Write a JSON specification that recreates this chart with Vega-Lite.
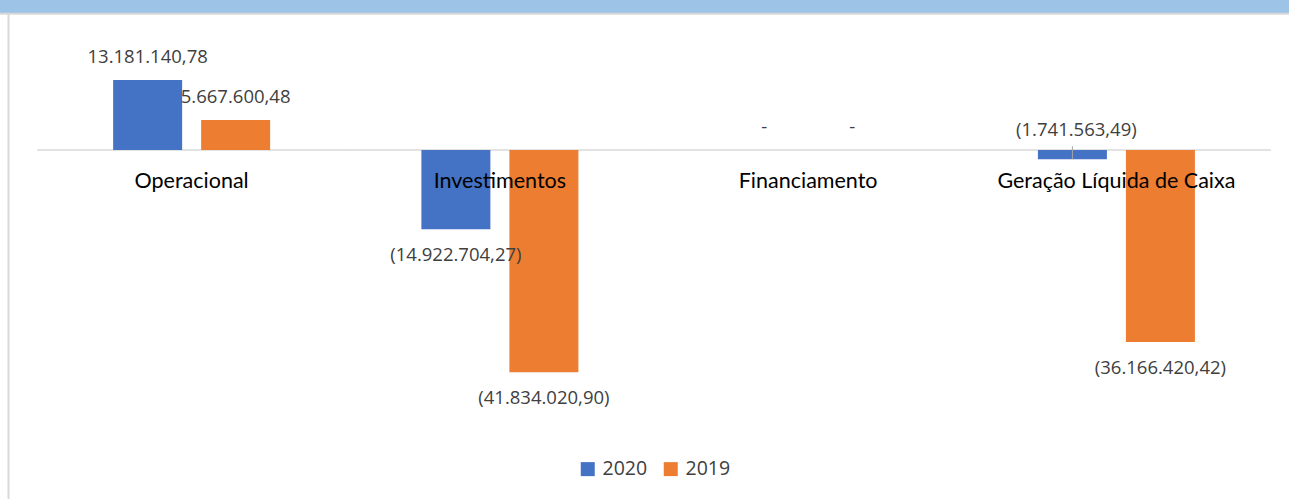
{
  "$schema": "https://vega.github.io/schema/vega-lite/v6.json",
  "width": 1289,
  "height": 499,
  "padding": 0,
  "autosize": {"type": "none"},
  "background": "white",
  "config": {"view": {"stroke": null}},
  "data": {
    "values": [
      {"cat": "Operacional", "year": "2020", "value": 13181140.78, "label": "13.181.140,78"},
      {"cat": "Operacional", "year": "2019", "value": 5667600.48, "label": "5.667.600,48"},
      {"cat": "Investimentos", "year": "2020", "value": -14922704.27, "label": "(14.922.704,27)"},
      {"cat": "Investimentos", "year": "2019", "value": -41834020.90, "label": "(41.834.020,90)"},
      {"cat": "Financiamento", "year": "2020", "value": 0, "label": "-"},
      {"cat": "Financiamento", "year": "2019", "value": 0, "label": "-"},
      {"cat": "Geração Líquida de Caixa", "year": "2020", "value": -1741563.49, "label": "(1.741.563,49)"},
      {"cat": "Geração Líquida de Caixa", "year": "2019", "value": -36166420.42, "label": "(36.166.420,42)"}
    ]
  },
  "layer": [
    {
      "transform": [{"filter": "datum.year === '2020'"}],
      "mark": {"type": "tick", "color": "#D9D9D9", "thickness": 1.5, "size": 309, "opacity": 1},
      "encoding": {
        "x": {"field": "cat", "type": "nominal",
              "sort": ["Operacional", "Investimentos", "Financiamento", "Geração Líquida de Caixa"],
              "scale": {"paddingInner": 0, "paddingOuter": 0.0908, "align": 0.67},
              "axis": {"title": null, "orient": "bottom", "offset": -349, "domain": false, "ticks": false,
                       "grid": false, "labelAngle": 0, "labelFont": "Lato", "labelFontSize": 21.5,
                       "labelColor": "#000000", "labelPadding": 20.5, "labelLimit": 0,
                       "labelOverlap": false, "labelBound": false, "zindex": 1}},
        "y": {"datum": 0, "type": "quantitative",
              "scale": {"domain": [-65725047, 28248588], "nice": false, "zero": false},
              "axis": {"title": null, "labels": false, "ticks": false, "grid": false, "domain": true,
                       "domainColor": "#D9D9D9", "domainWidth": 2, "offset": -8, "zindex": 0}}
      }
    },
    {
      "mark": {"type": "bar"},
      "encoding": {
        "x": {"field": "cat", "type": "nominal",
              "sort": ["Operacional", "Investimentos", "Financiamento", "Geração Líquida de Caixa"]},
        "xOffset": {"field": "year", "type": "nominal", "sort": ["2020", "2019"],
                    "scale": {"paddingInner": 0.2159, "paddingOuter": 0.8595}},
        "y": {"field": "value", "type": "quantitative"},
        "color": {"field": "year", "type": "nominal",
                  "scale": {"domain": ["2020", "2019"], "range": ["#4472C4", "#ED7D31"]},
                  "legend": {"title": null, "orient": "none", "direction": "horizontal",
                             "legendX": 578, "legendY": 459, "padding": 0,
                             "symbolType": "square", "symbolSize": 196, "symbolStrokeWidth": 0,
                             "symbolOpacity": 1,
                             "labelFont": "Open Sans", "labelFontSize": 19.5, "labelColor": "#404040",
                             "labelOffset": 5, "columnPadding": 13}}
      }
    },
    {
      "transform": [{"filter": "datum.value < 0 && datum.value > -5000000"}],
      "mark": {"type": "rule", "color": "#A6A6A6", "strokeWidth": 1},
      "encoding": {
        "x": {"field": "cat", "type": "nominal",
              "sort": ["Operacional", "Investimentos", "Financiamento", "Geração Líquida de Caixa"]},
        "xOffset": {"field": "year", "type": "nominal", "sort": ["2020", "2019"]},
        "y": {"field": "value", "type": "quantitative"},
        "y2": {"datum": 700000}
      }
    },
    {
      "transform": [{"filter": "datum.value >= 0"}],
      "mark": {"type": "text", "font": "Open Sans", "fontSize": 18.5, "color": "#404040", "baseline": "alphabetic", "dy": -17},
      "encoding": {
        "x": {"field": "cat", "type": "nominal",
              "sort": ["Operacional", "Investimentos", "Financiamento", "Geração Líquida de Caixa"]},
        "xOffset": {"field": "year", "type": "nominal", "sort": ["2020", "2019"]},
        "y": {"field": "value", "type": "quantitative"},
        "text": {"field": "label"}
      }
    },
    {
      "transform": [{"filter": "datum.value <= -5000000"}],
      "mark": {"type": "text", "font": "Open Sans", "fontSize": 18.5, "color": "#404040", "baseline": "alphabetic", "dy": 32},
      "encoding": {
        "x": {"field": "cat", "type": "nominal",
              "sort": ["Operacional", "Investimentos", "Financiamento", "Geração Líquida de Caixa"]},
        "xOffset": {"field": "year", "type": "nominal", "sort": ["2020", "2019"]},
        "y": {"field": "value", "type": "quantitative"},
        "text": {"field": "label"}
      }
    },
    {
      "transform": [{"filter": "datum.value < 0 && datum.value > -5000000"}],
      "mark": {"type": "text", "font": "Open Sans", "fontSize": 18.5, "color": "#404040", "baseline": "alphabetic", "dy": -23, "dx": 4},
      "encoding": {
        "x": {"field": "cat", "type": "nominal",
              "sort": ["Operacional", "Investimentos", "Financiamento", "Geração Líquida de Caixa"]},
        "xOffset": {"field": "year", "type": "nominal", "sort": ["2020", "2019"]},
        "y": {"field": "value", "type": "quantitative"},
        "text": {"field": "label"}
      }
    },
    {
      "data": {"values": [{"part": "strip"}]},
      "mark": {"type": "tick", "color": "#9DC3E6", "thickness": 13, "size": 1300, "opacity": 1},
      "encoding": {
        "y": {"datum": 27024483, "type": "quantitative"}
      }
    },
    {
      "data": {"values": [{"part": "border"}]},
      "mark": {"type": "tick", "color": "#D9D9D9", "thickness": 2, "size": 1300, "opacity": 1},
      "encoding": {
        "y": {"datum": 25668551, "type": "quantitative"}
      }
    }
  ]
}
